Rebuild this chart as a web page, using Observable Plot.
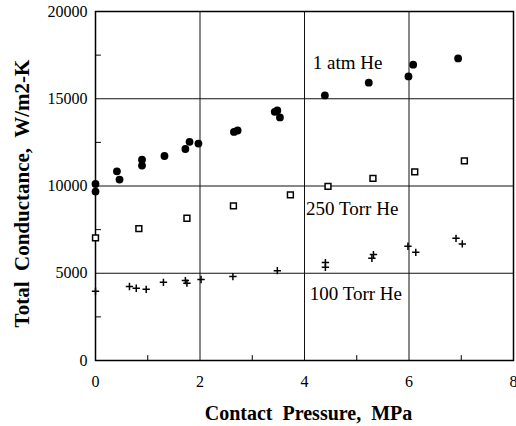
<!DOCTYPE html>
<html><head><meta charset="utf-8">
<script src="https://cdn.jsdelivr.net/npm/d3@7"></script>
<script src="https://cdn.jsdelivr.net/npm/@observablehq/plot@0.6"></script>
<style>body{margin:0;background:#fff;} #chart svg{display:block}</style>
</head><body><div id="chart"></div>
<script>
// 1 atm He (filled circles)
const atmX = [0.00, 0.00, 0.41, 0.46, 0.89, 0.89, 1.32, 1.72, 1.80, 1.97, 2.65, 2.72, 3.43, 3.48, 3.53, 4.39, 5.23, 5.99, 6.08, 6.94];
const atmY = [10120, 9680, 10840, 10370, 11510, 11170, 11720, 12120, 12530, 12430, 13100, 13180, 14250, 14330, 13930, 15190, 15920, 16280, 16950, 17310];
// 250 Torr He (open squares)
const t250X = [0.00, 0.83, 1.75, 2.64, 3.73, 4.45, 5.31, 6.11, 7.06];
const t250Y = [7030, 7560, 8150, 8860, 9490, 9980, 10440, 10810, 11440];
// 100 Torr He (plus)
const t100X = [0.00, 0.65, 0.78, 0.97, 1.30, 1.72, 1.75, 2.02, 2.63, 3.48, 4.40, 4.40, 5.32, 5.29, 5.98, 6.13, 6.90, 7.02];
const t100Y = [3970, 4240, 4140, 4080, 4480, 4580, 4430, 4640, 4810, 5150, 5610, 5340, 6070, 5860, 6550, 6200, 7000, 6680];

const seriesLabels = ["1 atm He", "250 Torr He", "100 Torr He"];
const labelX = [4.16, 4.03, 4.10];
const labelY = [17070, 8700, 3840];

const xTicks = [0, 2, 4, 6, 8];
const yTicks = [0, 5000, 10000, 15000, 20000];
const xGrid = [2, 4, 6];
const yGrid = [5000, 10000, 15000];
const xMinor = [1, 3, 5, 7];
const yMinor = [2500, 7500, 12500, 17500];
const xTitle = "Contact\u00a0 Pressure,\u00a0 MPa";
const yTitle = "Total\u00a0 Conductance,\u00a0 W/m2-K";

const pts = (xs, ys) => xs.map((x, i) => ({x, y: ys[i]}));
const atm = pts(atmX, atmY), t250 = pts(t250X, t250Y), t100 = pts(t100X, t100Y);
const labels = seriesLabels.map((t, i) => ({t, x: labelX[i], y: labelY[i]}));

const tickShape = {draw(context, l) { context.moveTo(0, 0); context.lineTo(0, -l); }};

const chart = Plot.plot({
  width: 516, height: 426,
  marginLeft: 95, marginRight: 3, marginTop: 11, marginBottom: 66,
  style: {fontFamily: "'Liberation Serif', 'Times New Roman', serif", background: "white", color: "black"},
  x: {domain: [0, 8]},
  y: {domain: [0, 20000]},
  marks: [
    Plot.ruleX(xGrid, {stroke: "#111", strokeWidth: 1}),
    Plot.ruleY(yGrid, {stroke: "#111", strokeWidth: 1}),
    Plot.vector(xMinor, {x: d => d, y: 0, length: 5, rotate: 0, anchor: "start", shape: tickShape, stroke: "black", strokeWidth: 1}),
    Plot.vector(yMinor, {x: 0, y: d => d, length: 5, rotate: 90, anchor: "start", shape: tickShape, stroke: "black", strokeWidth: 1}),
    Plot.frame({stroke: "black", strokeWidth: 1.5}),
    Plot.axisX(xTicks, {tickSize: 0, tickPadding: 15, fontSize: 16, label: null}),
    Plot.axisY(yTicks, {tickSize: 0, tickPadding: 8, fontSize: 16, label: null, tickFormat: d => String(d)}),
    Plot.text([xTitle], {frameAnchor: "bottom", textAnchor: "middle", lineAnchor: "middle", dx: 4, dy: 53, fontSize: 20, fontWeight: "bold"}),
    Plot.text([yTitle], {frameAnchor: "left", textAnchor: "middle", lineAnchor: "middle", dx: -73, dy: 7.5, rotate: -90, fontSize: 21, fontWeight: "bold"}),
    Plot.text(labels, {x: "x", y: "y", text: "t", textAnchor: "start", fontSize: 19}),
    Plot.dot(t250, {x: "x", y: "y", symbol: "square", r: 3.3, fill: "white", stroke: "black", strokeWidth: 1.5}),
    Plot.dot(t100, {x: "x", y: "y", symbol: "plus", r: 2.5, stroke: "black", strokeWidth: 1.5}),
    Plot.dot(atm, {x: "x", y: "y", r: 3.9, fill: "black", stroke: "none"})
  ]
});
document.getElementById("chart").appendChild(chart);
</script>
</body></html>
